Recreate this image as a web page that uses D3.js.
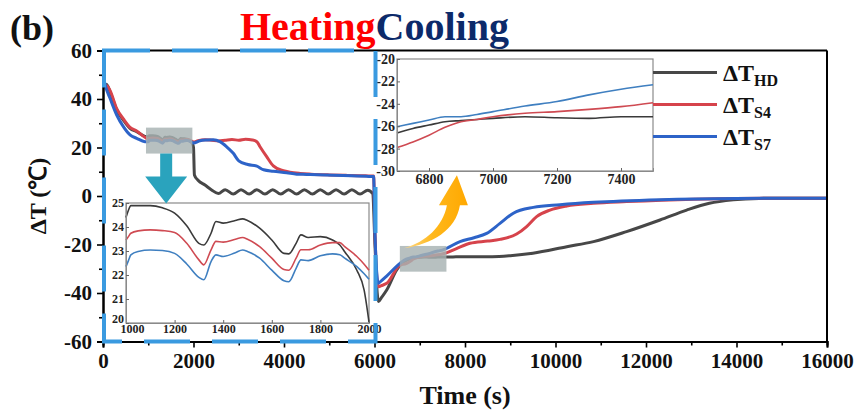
<!DOCTYPE html>
<html><head><meta charset="utf-8">
<script src="https://cdn.jsdelivr.net/npm/d3@7/dist/d3.min.js"></script>
<style>
html,body{margin:0;padding:0;background:#fff;}
svg text{font-family:"Liberation Serif","Times New Roman",serif !important;font-weight:bold;}
</style></head>
<body><svg id="c" width="857" height="412" font-family="Liberation Serif"></svg>
<script>
// ---------- DATA ----------
const seriesNames = ["HD", "S4", "S7"];
const xTicks = [0, 2000, 4000, 6000, 8000, 10000, 12000, 14000, 16000];
const yTicks = [-60, -40, -20, 0, 20, 40, 60];
const inset1XTicks = [1000, 1200, 1400, 1600, 1800, 2000];
const inset1YTicks = [20, 21, 22, 23, 24, 25];
const inset2XTicks = [6800, 7000, 7200, 7400];
const inset2YTicks = [-30, -28, -26, -24, -22, -20];

// inset 1 (zoom 1000-2000 s)
const in1T  = [1000,1010,1020,1050,1100,1150,1200,1250,1300,1320,1350,1370,1400,1450,1480,1500,1550,1600,1650,1670,1700,1720,1750,1800,1850,1880,1900,1950,1980,2000];
const in1HD = [24.4,24.7,24.89,24.89,24.89,24.8,24.58,24.05,23.32,23.25,23.74,24.23,24.16,24.27,24.34,24.27,23.95,23.46,22.9,22.88,23.32,23.67,23.56,23.6,23.46,23.25,22.97,22.2,21.37,20.04];
const in1S4 = [23.46,23.6,23.74,23.84,23.88,23.85,23.77,23.32,22.63,22.42,23.05,23.4,23.37,23.49,23.56,23.49,23.18,22.7,22.23,22.2,22.7,23.05,23.05,23.25,23.35,23.35,23.18,22.77,22.45,22.2];
const in1S7 = [22.35,22.6,22.84,22.98,23.04,23.02,22.9,22.46,21.9,21.8,22.56,22.84,22.77,22.93,23.04,22.98,22.7,22.2,21.76,21.72,22.28,22.63,22.6,22.8,22.88,22.84,22.7,22.35,22.05,21.82];

// inset 2 (zoom 6700-7500 s)
const in2T  = [6700,6750,6800,6850,6900,6950,7000,7100,7200,7300,7400,7500];
const in2HD = [-26.6,-26.2,-25.9,-25.6,-25.5,-25.4,-25.3,-25.15,-25.25,-25.3,-25.15,-25.15];
const in2S4 = [-27.9,-27.4,-26.8,-26.1,-25.6,-25.4,-25.15,-24.85,-24.7,-24.5,-24.25,-23.9];
const in2S7 = [-26.05,-25.75,-25.45,-25.15,-25.15,-24.95,-24.7,-24.2,-23.8,-23.2,-22.7,-22.3];

// main series
const hdT = [0,80,155,303,450,597,745,928].concat(in1T).concat([2020,2100,2254,2400,2550,2700,2880,3050,3230,3400,3580,3750,3930,4100,4280,4450,4630,4800,4980,5150,5330,5500,5680,5850,5960,6010,6060,6090,6150,6270,6490]).concat(in2T).concat([7800,8200,8600,9000,9500,10250,10840,11570,12310,12900,13400,13930,14500,15000,16000]);
const hdV = [45,46,43,35.5,31.3,27.9,26.5,24.6].concat(in1HD).concat([8.7,6.5,4.5,2.5,1.0,2.6,0.8,2.6,0.8,2.6,0.8,2.6,0.8,2.6,0.8,2.6,0.8,2.6,0.8,2.6,0.8,2.6,0.8,2.4,1.0,-20,-40,-43.5,-42,-38.8,-30.5]).concat(in2HD).concat([-25.1,-25.0,-25.0,-24.6,-23.6,-20.9,-18.8,-14.7,-9.9,-5.8,-3.0,-1.6,-1.0,-0.9,-0.9]);

const s4T = [0,80,155,303,450,597,745,928].concat(in1T).concat([2100,2250,2400,2550,2700,2850,3000,3150,3300,3400,3470,3617,3764,3985,4130,4354,4600,5000,5400,5800,5980,6010,6060,6090,6150,6270,6563]).concat(in2T).concat([7800,8110,8500,8773,9141,9362,9583,9878,10247,10836,11573,13046,14000,16000]);
const s4V = [45,45.5,43.5,36,31.8,28.3,26.8,24.2].concat(in1S4).concat([22.8,23.2,23.0,22.7,23.0,23.3,23.0,23.4,23.1,22.4,20.3,16.2,12.4,10.4,9.8,9.3,9.0,8.7,8.5,8.3,8.2,-15,-35,-37.4,-37,-36,-28.5]).concat(in2S4).concat([-21.8,-19.5,-18.6,-17.9,-15.7,-12.6,-8.5,-5.8,-4.1,-3.0,-2.3,-1.3,-1.0,-0.9]);

const s7T = [0,60,155,303,450,597,745,928].concat(in1T).concat([2144,2300,2438,2585,2733,2880,3000,3200,3400,3550,3764,4059,4280,4500,5090,5500,5827,5980,6010,6060,6080,6150,6269,6563]).concat(in2T).concat([7889,8200,8479,8773,9068,9510,10099,10836,12309,14000,16000]);
const s7V = [50,45,40.3,33.4,28.6,25.2,23.8,22.4].concat(in1S7).concat([22.8,23.1,23.2,22.4,20.3,17.6,14.5,13.0,12.3,10.8,10.2,9.6,9.0,8.9,8.6,8.3,8.1,8.0,-15,-34,-36,-35,-33,-27.8]).concat(in2S7).concat([-18.8,-17.2,-15.4,-11.3,-7.1,-4.7,-3.6,-2.6,-1.5,-1.0,-0.9]);

const mainColors  = ["#474747", "#d6434b", "#2d63c8"];
const insetColors = ["#3a3a3a", "#cf4a52", "#3f7fc0"];

// ---------- DRAW ----------
const svg = d3.select("#c");
const x = d3.scaleLinear().domain([0, 16000]).range([103, 827]);
const y = d3.scaleLinear().domain([-60, 60]).range([341.5, 50.5]);
const fmt = d => String(d);

const defs = svg.append("defs");
const grad = defs.append("linearGradient").attr("id","og").attr("x1","0").attr("y1","0").attr("x2","1").attr("y2","0");
grad.append("stop").attr("offset","0").attr("stop-color","#ffd98a");
grad.append("stop").attr("offset","0.45").attr("stop-color","#ffb81c");
grad.append("stop").attr("offset","1").attr("stop-color","#ffa800");

const mk = (T, V) => T.map((t, i) => [t, V[i]]);
const mainData = [mk(hdT, hdV), mk(s4T, s4V), mk(s7T, s7V)];

const line = d3.line().x(d => x(d[0])).y(d => y(d[1])).curve(d3.curveMonotoneX);

svg.append("g").selectAll("path").data(mainData).join("path")
  .attr("d", line).attr("fill", "none")
  .attr("stroke", (d, i) => mainColors[i]).attr("stroke-width", 3)
  .attr("stroke-linejoin", "round");

// gray highlight rectangles
const hl = [[950, 1975, 17.5, 28.2], [6560, 7590, -31.2, -20.6]];
svg.append("g").selectAll("rect").data(hl).join("rect")
  .attr("x", d => x(d[0])).attr("width", d => x(d[1]) - x(d[0]))
  .attr("y", d => y(d[3])).attr("height", d => y(d[2]) - y(d[3]))
  .attr("fill", "#a7b2b2").attr("opacity", 0.82);

// axes
const gx = svg.append("g").attr("transform", `translate(0,${y(-60)})`)
  .call(d3.axisBottom(x).tickValues(xTicks).tickSize(6).tickPadding(6).tickFormat(fmt));
svg.append("g").attr("transform", `translate(0,${y(-60)})`)
  .call(d3.axisBottom(x).tickValues(d3.range(1000, 16000, 2000)).tickSize(4).tickFormat(""));
const gy = svg.append("g").attr("transform", `translate(${x(0)},0)`)
  .call(d3.axisLeft(y).tickValues(yTicks).tickSize(6).tickPadding(5).tickFormat(fmt));
svg.append("g").attr("transform", `translate(${x(0)},0)`)
  .call(d3.axisLeft(y).tickValues(d3.range(-50, 60, 20)).tickSize(4).tickFormat(""));
svg.selectAll(".domain").attr("stroke", "#000").attr("stroke-width", 2);
svg.selectAll(".tick line").attr("stroke", "#000").attr("stroke-width", 1.6);
gx.selectAll("text").attr("font-size", 21).attr("fill", "#111");
gy.selectAll("text").attr("font-size", 21).attr("fill", "#111");
svg.append("line").attr("x1", x(0)).attr("x2", x(16000)).attr("y1", y(60)).attr("y2", y(60)).attr("stroke", "#000").attr("stroke-width", 2);
svg.append("line").attr("x1", x(16000)).attr("x2", x(16000)).attr("y1", y(60)).attr("y2", y(-60)).attr("stroke", "#000").attr("stroke-width", 2);

// axis titles
svg.append("text").attr("x", 465).attr("y", 404).attr("text-anchor", "middle")
  .attr("font-size", 26).attr("fill", "#111").text("Time (s)");
svg.append("text").attr("transform", `translate(46,${y(0)}) rotate(-90)`).attr("text-anchor", "middle")
  .attr("font-size", 24).attr("fill", "#111").text("ΔT (℃)");

// title
svg.append("text").attr("x", 10).attr("y", 40).attr("font-size", 36).attr("fill", "#111").text("(b)");
const tt = svg.append("text").attr("x", 240).attr("y", 40).attr("font-size", 40);
tt.append("tspan").attr("fill", "#ff0000").text("Heating");
tt.append("tspan").attr("fill", "#0c2a6a").text("Cooling");

// ---------- inset 1 ----------
const x1 = d3.scaleLinear().domain([1000, 2000]).range([126, 369]);
const y1 = d3.scaleLinear().domain([20, 25]).range([323, 203]);
const ins1 = svg.append("g");
ins1.append("rect").attr("x", x1(1000)).attr("y", y1(25)).attr("width", x1(2000) - x1(1000)).attr("height", y1(20) - y1(25))
  .attr("fill", "#fff").attr("stroke", "#8a8a8a").attr("stroke-width", 1.2);
const in1Data = [mk(in1T, in1HD), mk(in1T, in1S4), mk(in1T, in1S7)];
const l1 = d3.line().x(d => x1(d[0])).y(d => y1(Math.max(20, d[1]))).curve(d3.curveMonotoneX);
ins1.selectAll("path.l").data(in1Data).join("path").attr("class", "l")
  .attr("d", l1).attr("fill", "none").attr("stroke", (d, i) => insetColors[i]).attr("stroke-width", 1.6);
const a1x = ins1.append("g").attr("transform", `translate(0,${y1(20)})`)
  .call(d3.axisBottom(x1).tickValues(inset1XTicks).tickSize(-3).tickPadding(1).tickFormat(fmt));
const a1y = ins1.append("g").attr("transform", `translate(${x1(1000)},0)`)
  .call(d3.axisLeft(y1).tickValues(inset1YTicks).tickSize(-3).tickPadding(2).tickFormat(fmt));
[a1x, a1y].forEach(g => { g.select(".domain").attr("stroke", "#8a8a8a"); g.selectAll(".tick line").attr("stroke", "#666");
  g.selectAll("text").attr("font-size", 12).attr("fill", "#222"); });
a1y.selectAll(".tick").filter(d => d === 20).select("text").attr("dy", "-0.05em");
a1x.selectAll(".tick").filter(d => d === 1000).select("text").attr("dx", "0.5em");

// ---------- inset 2 ----------
const x2 = d3.scaleLinear().domain([6700, 7500]).range([397, 653]);
const y2 = d3.scaleLinear().domain([-30, -20]).range([171, 59]);
const ins2 = svg.append("g");
ins2.append("rect").attr("x", x2(6700)).attr("y", y2(-20)).attr("width", x2(7500) - x2(6700)).attr("height", y2(-30) - y2(-20))
  .attr("fill", "#fff").attr("stroke", "#8a8a8a").attr("stroke-width", 1.2);
const in2Data = [mk(in2T, in2HD), mk(in2T, in2S4), mk(in2T, in2S7)];
const l2 = d3.line().x(d => x2(d[0])).y(d => y2(d[1])).curve(d3.curveMonotoneX);
ins2.selectAll("path.l").data(in2Data).join("path").attr("class", "l")
  .attr("d", l2).attr("fill", "none").attr("stroke", (d, i) => insetColors[i]).attr("stroke-width", 1.6);
const a2x = ins2.append("g").attr("transform", `translate(0,${y2(-30)})`)
  .call(d3.axisBottom(x2).tickValues(inset2XTicks).tickSize(-3).tickPadding(3).tickFormat(fmt));
const a2y = ins2.append("g").attr("transform", `translate(${x2(6700)},0)`)
  .call(d3.axisLeft(y2).tickValues(inset2YTicks).tickSize(-3).tickPadding(2).tickFormat(fmt));
[a2x, a2y].forEach(g => { g.select(".domain").attr("stroke", "#8a8a8a"); g.selectAll(".tick line").attr("stroke", "#666");
  g.selectAll("text").attr("font-size", 14).attr("fill", "#222"); });

// ---------- dashed blue box (heating region) ----------
svg.append("rect").attr("x", x(0) + 1).attr("y", y(60)).attr("width", x(6000) - x(0)).attr("height", y(-60) - y(60))
  .attr("fill", "none").attr("stroke", "#3a9ae0").attr("stroke-width", 4).attr("stroke-dasharray", "46,22");

// ---------- arrows ----------
const r1cx = (x(950) + x(1975)) / 2 - 3, r1b = y(17.5);
svg.append("path").attr("fill", "#2aa3bd")
  .attr("d", `M${r1cx-6},${r1b} L${r1cx+6},${r1b} L${r1cx+6},${r1b+23} L${r1cx+21},${r1b+23} L${r1cx},${r1b+50} L${r1cx-21},${r1b+23} L${r1cx-6},${r1b+23} Z`);
const sx = x(6650), sy = y(-21.5);
svg.append("path").attr("fill", "url(#og)")
  .attr("d", `M${sx},${sy} C${sx+28},${sy-4} ${sx+52},${sy-18} ${sx+56},${sy-43} L${sx+64},${sy-43} L${sx+53},${sy-73} L${sx+35},${sy-43} L${sx+43},${sy-43} C${sx+39},${sy-22} ${sx+22},${sy-6} ${sx},${sy} Z`);

// ---------- legend ----------
const lg = svg.append("g");
seriesNames.forEach((n, i) => {
  const ly = 72.5 + i * 32;
  lg.append("line").attr("x1", 653).attr("x2", 717).attr("y1", ly).attr("y2", ly)
    .attr("stroke", mainColors[i]).attr("stroke-width", 3);
  const t = lg.append("text").attr("x", 723).attr("y", ly + 8).attr("font-size", 24).attr("fill", "#111");
  t.append("tspan").text("ΔT");
  t.append("tspan").attr("font-size", 16).attr("dy", 5).text(n);
});
</script></body></html>
